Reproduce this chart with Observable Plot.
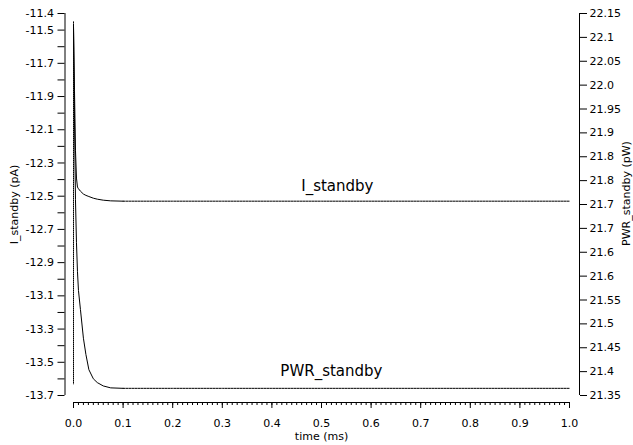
<!DOCTYPE html>
<html><head><meta charset="utf-8">
<script src="https://cdn.jsdelivr.net/npm/d3@7"></script>
<script src="https://cdn.jsdelivr.net/npm/@observablehq/plot@0.6"></script>
<style>
body{margin:0;background:#fff;}
#wrap{position:relative;width:633px;height:445px;}
#wrap svg{position:absolute;left:0;top:0;}
</style></head><body><div id="wrap"></div>
<script>
// ---- data ----
const time       = [0, 0.002, 0.004, 0.006, 0.008, 0.01, 0.014, 0.02, 0.025, 0.031, 0.04, 0.048, 0.06, 0.075, 0.1, 0.2, 0.3, 0.4, 0.5, 0.6, 0.7, 0.8, 0.9, 1.0];
const iStandby   = [-11.472, -11.862, -12.223, -12.391, -12.445, -12.455, -12.47, -12.487, -12.495, -12.502, -12.512, -12.518, -12.524, -12.528, -12.53, -12.53, -12.53, -12.53, -12.53, -12.53, -12.53, -12.53, -12.53, -12.53];
const pwrStandby = [22.125, 21.93, 21.76, 21.67, 21.61, 21.57, 21.53, 21.47, 21.436, 21.404, 21.385, 21.377, 21.37, 21.366, 21.365, 21.365, 21.365, 21.365, 21.365, 21.365, 21.365, 21.365, 21.365, 21.365];
const spikeTime  = [0, 0];
const spikeI     = [-11.45, -13.63];

const seriesNames = ["I_standby", "PWR_standby"];
const labelPosTime = [0.532, 0.52];
const labelPosI = -12.44;
const labelPosPwr = 21.40;

const timeDomain = [0, 1];
const iDomain = [-13.7, -11.4];
const pwrDomain = [21.35, 22.15];

const timeTicks = [0, 0.1, 0.2, 0.3, 0.4, 0.5, 0.6, 0.7, 0.8, 0.9, 1.0];
const timeTickLabels = ["0.0","0.1","0.2","0.3","0.4","0.5","0.6","0.7","0.8","0.9","1.0"];
const timeMinorCount = 100;
const iTicks = [-11.4,-11.5,-11.6,-11.7,-11.8,-11.9,-12.0,-12.1,-12.2,-12.3,-12.4,-12.5,-12.6,-12.7,-12.8,-12.9,-13.0,-13.1,-13.2,-13.3,-13.4,-13.5,-13.6,-13.7];
const iTickLabeled = [-11.4,-11.5,-11.7,-11.9,-12.1,-12.3,-12.5,-12.7,-12.9,-13.1,-13.3,-13.5,-13.7];
const iTickLabels = ["-11.4","-11.5","-11.7","-11.9","-12.1","-12.3","-12.5","-12.7","-12.9","-13.1","-13.3","-13.5","-13.7"];
const pwrTicks = [22.15,22.1,22.05,22.0,21.95,21.9,21.85,21.8,21.75,21.7,21.65,21.6,21.55,21.5,21.45,21.4,21.35];
const pwrTickLabels = ["22.15","22.1","22.05","22.0","21.95","21.9","21.8","21.8","21.7","21.7","21.6","21.6","21.55","21.5","21.45","21.4","21.35"];

const xTitle = "time (ms)";
const yLeftTitle = "I_standby (pA)";
const yRightTitle = "PWR_standby (pW)";

// ---- helpers ----
const key = v => (+v).toFixed(3);
const iLabelMap = new Map(iTickLabeled.map((v, i) => [key(v), iTickLabels[i]]));
const pwrLabelMap = new Map(pwrTicks.map((v, i) => [key(v), pwrTickLabels[i]]));
const minorTimeTicks = d3.ticks(timeDomain[0], timeDomain[1], timeMinorCount);
const timeLabelRows = timeTicks.map((t, i) => ({t, label: timeTickLabels[i]}));

const iRows = time.map((t, i) => ({t, v: iStandby[i]}));
const pRows = time.map((t, i) => ({t, v: pwrStandby[i]}));
const spikeRows = spikeTime.map((t, i) => ({t, v: spikeI[i]}));

const W = 633, H = 445, MT = 13, MB = 50;
const frameH = H - MT - MB;
const common = {
  width: W, height: H,
  marginLeft: 73, marginRight: 64, marginTop: MT, marginBottom: MB,
  style: {fontFamily: "'DejaVu Sans', sans-serif", fontSize: "11px", background: "transparent", color: "#000", overflow: "visible"}
};

const left = Plot.plot({
  ...common,
  x: {domain: timeDomain, axis: null},
  y: {domain: iDomain, axis: null},
  marks: [
    Plot.ruleX([timeDomain[0]], {y1: iDomain[0], y2: iDomain[1], dx: -8.5, stroke: "#000"}),
    Plot.axisY({anchor: "left", ticks: iTicks, tickSize: 7, tickPadding: 4, dx: -8.5, label: null,
      tickFormat: d => iLabelMap.get(key(d)) ?? ""}),
    // x axis: baseline, minor and major ticks hanging below it
    Plot.ruleY([iDomain[0]], {x1: timeDomain[0], x2: timeDomain[1], dy: 7, stroke: "#000"}),
    Plot.tickX(minorTimeTicks, {x: d => d, insetTop: frameH - 3, dy: 10, stroke: "#000"}),
    Plot.tickX(timeTicks, {x: d => d, insetTop: frameH - 6, dy: 13, stroke: "#000"}),
    Plot.text(timeLabelRows, {x: "t", y: () => iDomain[0], text: "label", dy: 28, fill: "#000"}),
    Plot.text([xTitle], {frameAnchor: "bottom", dy: 44, fill: "#000"}),
    Plot.text([yLeftTitle], {frameAnchor: "left", textAnchor: "middle", rotate: -90, dx: -59, fill: "#000"}),
    Plot.line(spikeRows, {x: "t", y: "v", stroke: "#000", strokeWidth: 1, strokeDasharray: "1,1"}),
    Plot.line(iRows.filter(d => d.t <= 0.1), {x: "t", y: "v", stroke: "#000", strokeWidth: 1}),
    Plot.line(iRows.filter(d => d.t >= 0.1), {x: "t", y: "v", stroke: "#000", strokeWidth: 1, strokeDasharray: "2,1"}),
    Plot.text([seriesNames[0]], {x: () => labelPosTime[0], y: () => labelPosI, fontSize: 15, fill: "#000"})
  ]
});

const right = Plot.plot({
  ...common,
  x: {domain: timeDomain, axis: null},
  y: {domain: pwrDomain, axis: null},
  marks: [
    Plot.ruleX([timeDomain[1]], {y1: pwrDomain[0], y2: pwrDomain[1], dx: 10, stroke: "#000"}),
    Plot.axisY({anchor: "right", ticks: pwrTicks, tickSize: 7, tickPadding: 3, dx: 10, label: null,
      tickFormat: d => pwrLabelMap.get(key(d)) ?? ""}),
    Plot.text([yRightTitle], {frameAnchor: "right", textAnchor: "middle", rotate: -90, dx: 57, dy: -11, fill: "#000"}),
    Plot.line(pRows.filter(d => d.t <= 0.1), {x: "t", y: "v", stroke: "#000", strokeWidth: 1}),
    Plot.line(pRows.filter(d => d.t >= 0.1), {x: "t", y: "v", stroke: "#000", strokeWidth: 1, strokeDasharray: "2,1"}),
    Plot.text([seriesNames[1]], {x: () => labelPosTime[1], y: () => labelPosPwr, fontSize: 15, fill: "#000"})
  ]
});

const wrap = document.getElementById("wrap");
wrap.appendChild(left);
wrap.appendChild(right);
</script>
</body></html>
